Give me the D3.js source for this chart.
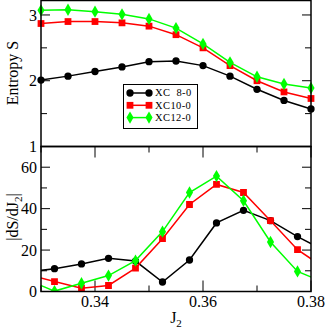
<!DOCTYPE html>
<html>
<head>
<meta charset="utf-8">
<title></title>
<style>
  body { margin: 0; background: #fff; }
</style>
</head>
<body>
<svg width="327" height="330" font-family="'Liberation Serif', 'Times New Roman', 'DejaVu Serif', serif"></svg>
<script src="https://d3js.org/d3.v7.min.js"></script>
<script>
// top panel: entropy S vs J2
var jTop = [0.33, 0.335, 0.34, 0.345, 0.35, 0.355, 0.36, 0.365, 0.37, 0.375, 0.38];
var sXC8  = [2.01, 2.07, 2.14, 2.21, 2.29, 2.30, 2.23, 2.07, 1.87, 1.70, 1.57];
var sXC10 = [2.87, 2.90, 2.90, 2.88, 2.83, 2.70, 2.50, 2.23, 2.00, 1.83, 1.73];
var sXC12 = [3.07, 3.08, 3.05, 3.01, 2.94, 2.80, 2.56, 2.28, 2.06, 1.95, 1.89];

// bottom panel: |dS/dJ2| at midpoints (first and last fall outside the frame)
var jMid = [0.3275, 0.3325, 0.3375, 0.3425, 0.3475, 0.3525, 0.3575, 0.3625, 0.3675, 0.3725, 0.3775, 0.3825];
var dXC8  = [9.4, 11.0, 13.3, 16.0, 14.7, 4.6, 15.2, 33.1, 39.2, 34.2, 26.5, 19.7];
var dXC10 = [8.2, 4.8, 1.6, 2.9, 11.3, 25.5, 42.0, 51.7, 47.8, 34.2, 20.2, 11.4];
var dXC12 = [5.6, 0.2, 4.0, 7.7, 14.9, 28.9, 47.8, 55.7, 43.8, 23.9, 9.7, 4.3];

var labels = ["XC\u00a0\u00a08-0", "XC10-0", "XC12-0"];
var colors = ["#000000", "#ff0000", "#00ff00"];
var symbols = [d3.symbolCircle, d3.symbolSquare, d3.symbolDiamond];
var symSizes = [42, 46, 44];

var xTicksMajor = [0.34, 0.36, 0.38];
var xTicksMinor = [0.33, 0.35, 0.37];
var sTicksMajor = [1, 2, 3];
var sTicksMinor = [1.5, 2.5];
var dTicksMajor = [0, 20, 40, 60];
var dTicksMinor = [10, 30, 50];

var svg = d3.select("svg");
var left = 41, right = 311;
var top1 = 0.5, bot1 = 146.5, top2 = 146.5, bot2 = 291.5;

var x = d3.scaleLinear().domain([0.33, 0.38]).range([left, right]);
var yS = d3.scaleLinear().domain([1, 3.22]).range([bot1, top1]);
var yD = d3.scaleLinear().domain([0, 70]).range([bot2, top2]);

svg.append("defs").append("clipPath").attr("id", "clipB")
    .append("rect").attr("x", left).attr("y", top2).attr("width", right - left).attr("height", bot2 - top2);

function ticks(yScale, major, minor, y0, y1, withX) {
    var g = svg.append("g").attr("stroke", "#000").attr("stroke-width", 1);
    major.forEach(function(v) {
        g.append("line").attr("x1", left).attr("x2", left + 9).attr("y1", yScale(v)).attr("y2", yScale(v));
        g.append("line").attr("x1", right).attr("x2", right - 9).attr("y1", yScale(v)).attr("y2", yScale(v));
    });
    minor.forEach(function(v) {
        g.append("line").attr("x1", left).attr("x2", left + 6).attr("y1", yScale(v)).attr("y2", yScale(v));
        g.append("line").attr("x1", right).attr("x2", right - 6).attr("y1", yScale(v)).attr("y2", yScale(v));
    });
    if (withX) {
        xTicksMajor.forEach(function(v) {
            g.append("line").attr("x1", x(v)).attr("x2", x(v)).attr("y1", y1).attr("y2", y1 - 11);
            g.append("line").attr("x1", x(v)).attr("x2", x(v)).attr("y1", y0).attr("y2", y0 + 11);
        });
        xTicksMinor.forEach(function(v) {
            g.append("line").attr("x1", x(v)).attr("x2", x(v)).attr("y1", y1).attr("y2", y1 - 6);
            g.append("line").attr("x1", x(v)).attr("x2", x(v)).attr("y1", y0).attr("y2", y0 + 6);
        });
    }
    svg.append("g").selectAll("text").data(major).join("text")
        .attr("x", left - 4).attr("y", function(d) { return yScale(d); })
        .attr("dy", "0.35em").attr("text-anchor", "end")
        .style("font-size", "16px")
        .text(function(d) { return d; });
}

ticks(yS, sTicksMajor, sTicksMinor, top1, bot1, false);
ticks(yD, dTicksMajor, dTicksMinor, top2, bot2, true);

// x tick labels
svg.append("g").selectAll("text").data(xTicksMajor).join("text")
    .attr("x", function(d) { return x(d); }).attr("y", 307)
    .attr("text-anchor", "middle").style("font-size", "16px")
    .text(function(d) { return d.toFixed(2); });

function series(xs, ys, yScale, i, clip) {
    var pts = xs.map(function(v, k) { return [v, ys[k]]; });
    var g = svg.append("g");
    if (clip) g.attr("clip-path", "url(#clipB)");
    var line = d3.line().x(function(d) { return x(d[0]); }).y(function(d) { return yScale(d[1]); });
    g.append("path").datum(pts)
        .attr("fill", "none").attr("stroke", colors[i]).attr("stroke-width", 1.5)
        .attr("d", line);
    g.selectAll("path.m").data(pts).join("path").attr("class", "m")
        .attr("transform", function(d) { return "translate(" + x(d[0]) + "," + yScale(d[1]) + ")"; })
        .attr("d", d3.symbol().type(symbols[i]).size(symSizes[i]))
        .attr("fill", colors[i]);
}

series(jTop, sXC8, yS, 0, false);
series(jTop, sXC10, yS, 1, false);
series(jTop, sXC12, yS, 2, false);
series(jMid, dXC8, yD, 0, true);
series(jMid, dXC10, yD, 1, true);
series(jMid, dXC12, yD, 2, true);

// frames
svg.append("rect").attr("x", left).attr("y", top1).attr("width", right - left).attr("height", bot1 - top1)
    .attr("fill", "none").attr("stroke", "#000").attr("stroke-width", 1.5);
svg.append("rect").attr("x", left).attr("y", top2).attr("width", right - left).attr("height", bot2 - top2)
    .attr("fill", "none").attr("stroke", "#000").attr("stroke-width", 1.5);

// legend
var lg = svg.append("g");
lg.append("rect").attr("x", 123.5).attr("y", 84.5).attr("width", 74).attr("height", 44)
    .attr("fill", "#fff").attr("stroke", "#000").attr("stroke-width", 1);
labels.forEach(function(t, i) {
    var yy = 93 + i * 12.3;
    lg.append("line").attr("x1", 130).attr("x2", 149).attr("y1", yy).attr("y2", yy)
        .attr("stroke", colors[i]).attr("stroke-width", 1.5);
    [130, 149].forEach(function(xx) {
        lg.append("path").attr("transform", "translate(" + xx + "," + yy + ")")
            .attr("d", d3.symbol().type(symbols[i]).size(symSizes[i])).attr("fill", colors[i]);
    });
    lg.append("text").attr("x", 155).attr("y", yy).attr("dy", "0.33em")
        .style("font-size", "10.5px").style("letter-spacing", "0.4px").text(t);
});

// axis titles
svg.append("text").attr("transform", "translate(18,73) rotate(-90)")
    .attr("text-anchor", "middle").style("font-size", "16px").text("Entropy S");
var yt = svg.append("text").attr("transform", "translate(18,217) rotate(-90)")
    .attr("text-anchor", "middle").style("font-size", "16px");
yt.append("tspan").text("|dS/dJ");
yt.append("tspan").attr("dy", 4).style("font-size", "11px").text("2");
yt.append("tspan").attr("dy", -4).text("|");

var xt = svg.append("text").attr("x", x(0.355)).attr("y", 323)
    .attr("text-anchor", "middle").style("font-size", "16px");
xt.append("tspan").text("J");
xt.append("tspan").attr("dy", 4).style("font-size", "11px").text("2");
</script>
</body>
</html>
